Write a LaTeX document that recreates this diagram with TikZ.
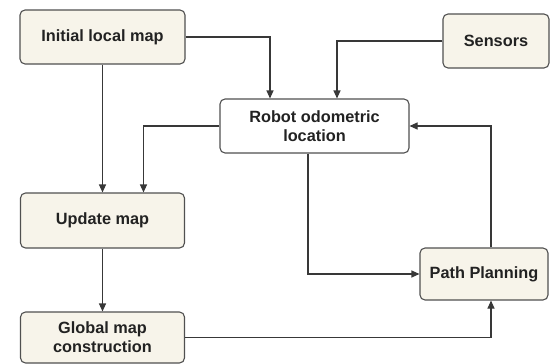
\documentclass[tikz,border=0pt]{standalone}
\usepackage{fontspec}
\setmainfont{Liberation Sans}
\usetikzlibrary{arrows.meta}
\definecolor{boxfill}{HTML}{F7F4EA}
\definecolor{boxline}{HTML}{505050}
\definecolor{txt}{HTML}{222222}
\begin{document}
\begin{tikzpicture}[x=1pt,y=-1pt,
  box/.style={draw=boxline,line width=1.1pt,rounded corners=5pt,fill=boxfill,
    align=center,font=\fontsize{16.3}{19}\selectfont\bfseries,text=txt,inner sep=0pt},
  conn/.style={draw=black!78,line width=1.1pt,-{Triangle[length=8pt,width=7pt]}}]
\useasboundingbox (0,0) rectangle (550,364);
\node[box,minimum width=165pt,minimum height=54pt] (init) at (102.5,37) {Initial local map};
\node[box,minimum width=106pt,minimum height=54pt] (sens) at (496,41) {Sensors};
\node[box,fill=white,minimum width=189pt,minimum height=54pt] (robot) at (314.5,126) {Robot odometric\\location};
\node[box,minimum width=164pt,minimum height=55pt] (update) at (102.5,220.5) {Update map};
\node[box,minimum width=164pt,minimum height=51pt] (global) at (102.5,337.5) {Global map\\construction};
\node[box,minimum width=128pt,minimum height=52pt] (path) at (484,274) {Path Planning};
\draw[conn] (init.east) -| ([xshift=-44.5pt]robot.north);
\draw[conn] (sens.west) -| ([xshift=22.5pt]robot.north);
\draw[conn] (robot.west) -| ([xshift=41pt]update.north);
\draw[conn] (init) -- (update);
\draw[conn] (update) -- (global);
\draw[conn] ([xshift=-6.5pt]robot.south) |- (path.west);
\draw[conn] ([xshift=7pt]path.north) |- (robot.east);
\draw[conn] (global.east) -| ([xshift=7pt]path.south);
\end{tikzpicture}
\end{document}
